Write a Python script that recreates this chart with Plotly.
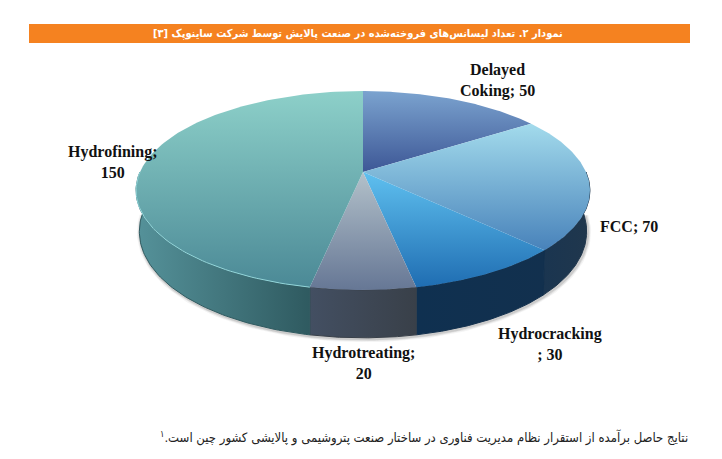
import numpy as np
import plotly.graph_objects as go

# pie data, clockwise from 12 o'clock
categories = ['Delayed Coking', 'FCC', 'Hydrocracking', 'Hydrotreating', 'Hydrofining']
values = [50, 70, 30, 20, 150]
label_text = ['Delayed<br>Coking; 50', 'FCC; 70', 'Hydrocracking<br>; 30', 'Hydrotreating;<br>20', 'Hydrofining;<br>150']
title_text = 'نمودار ۲. تعداد لیسانس‌های فروخته‌شده در صنعت پالایش توسط شرکت ساینوپک [۳]'
footer_text = 'نتایج حاصل برآمده از استقرار نظام مدیریت فناوری در ساختار صنعت پتروشیمی و پالایشی کشور چین است.<sup>۱</sup>'

top_colors = [['#7ba3cf', '#3d5796'], ['#a3dbec', '#4882ba'], ['#5fc0ef', '#1f6db2'], ['#b3c1ca', '#667795'], ['#8dd0c9', '#4b8996']]
side_colors = [['#2a4a70', '#2a4a70'], ['#1a3550', '#20374d'], ['#0f3050', '#12304e'], ['#434f62', '#394049'], ['#55929a', '#2f5a60']]
label_pos = [(497, 80), (629, 226), (550, 344), (363, 363), (113, 162)]

# perspective of the disc, in page pixels
cx, cy, rx, ry, persp, depth = 363, 172, 223, 96, 0.186, 39
# the page body has an 8px margin, the axes are shifted to make up for it
page_margin = 8


def top_xy(theta):
    u, v = np.sin(theta), np.cos(theta)
    w = 1 + persp * v
    return cx + rx * u / w, cy - ry * v / w


def bottom_xy(theta):
    x, y = top_xy(theta)
    u, v = np.sin(theta), np.cos(theta)
    return cx + (x - cx) * (1 - 0.015 * u ** 2), y + depth / (1 + persp * v)


fig = go.Figure()

# soft shadow under the disc
theta = np.radians(np.linspace(92, 268, 200))
x, y = bottom_xy(theta)
for width, alpha in [(7, 0.06), (5, 0.09), (3, 0.14)]:
    fig.add_trace(go.Scatter(x=x + 1, y=y + 1, mode='lines', line={'color': f'rgba(60,60,60,{alpha})', 'width': width}, hoverinfo='skip'))

edges = np.cumsum([0] + values) / sum(values) * 2 * np.pi

# outer wall, only the front half can be seen
for i in range(len(values)):
    start, end = max(edges[i], np.pi / 2), min(edges[i + 1], 3 * np.pi / 2)
    if end <= start:
        continue
    theta = np.linspace(start, end, 80)
    x1, y1 = top_xy(theta)
    x2, y2 = bottom_xy(theta)
    # the thin outline closes the pale seam between two walls
    fig.add_trace(go.Scatter(
        x=np.r_[x1, x2[::-1], x1[0]], y=np.r_[y1, y2[::-1], y1[0]], mode='lines', fill='toself',
        line={'width': 1, 'color': side_colors[i][1]}, hoverinfo='skip',
        fillgradient={'type': 'horizontal', 'colorscale': [[0, side_colors[i][0]], [1, side_colors[i][1]]]}))

# top face
for i in range(len(values)):
    theta = np.linspace(edges[i], edges[i + 1], 120)
    x, y = top_xy(theta)
    # y axis is reversed, so the first colour of the scale goes to the bottom of the page
    fig.add_trace(go.Scatter(
        x=np.r_[cx, x, cx], y=np.r_[cy, y, cy], mode='lines', fill='toself', line={'width': 0}, name=categories[i], hoverinfo='skip',
        fillgradient={'type': 'vertical', 'colorscale': [[0, top_colors[i][1]], [1, top_colors[i][0]]]}))

# light rim on the front edge of the big slice
theta = np.linspace(edges[4], 3 * np.pi / 2, 60)
x, y = top_xy(theta)
fig.add_trace(go.Scatter(x=x, y=y, mode='lines', line={'color': '#93d6da', 'width': 1}, hoverinfo='skip'))

for text, pos in zip(label_text, label_pos):
    fig.add_annotation(x=pos[0], y=pos[1], text=f'<b>{text}</b>', showarrow=False, font={'family': 'Liberation Serif', 'size': 16, 'color': '#111111'})

fig.add_shape(type='rect', x0=29, x1=690, y0=24, y1=43, fillcolor='#f58220', line={'width': 0}, layer='below')
fig.add_annotation(x=565, y=33, text=f'<b>{title_text}</b>', xanchor='right', showarrow=False, font={'family': 'DejaVu Sans Condensed', 'size': 11, 'color': 'white'})
fig.add_annotation(x=690, y=437, text=footer_text, xanchor='right', showarrow=False, font={'family': 'DejaVu Sans Condensed', 'size': 13, 'color': '#222222'})

fig.update_layout(
    width=722, height=459, margin={'l': 0, 'r': 0, 't': 0, 'b': 0}, showlegend=False,
    paper_bgcolor='white', plot_bgcolor='white')
fig.update_xaxes(range=[page_margin, 722 + page_margin], visible=False, fixedrange=True)
fig.update_yaxes(range=[459 + page_margin, page_margin], visible=False, fixedrange=True)

fig.write_html("out.html")
